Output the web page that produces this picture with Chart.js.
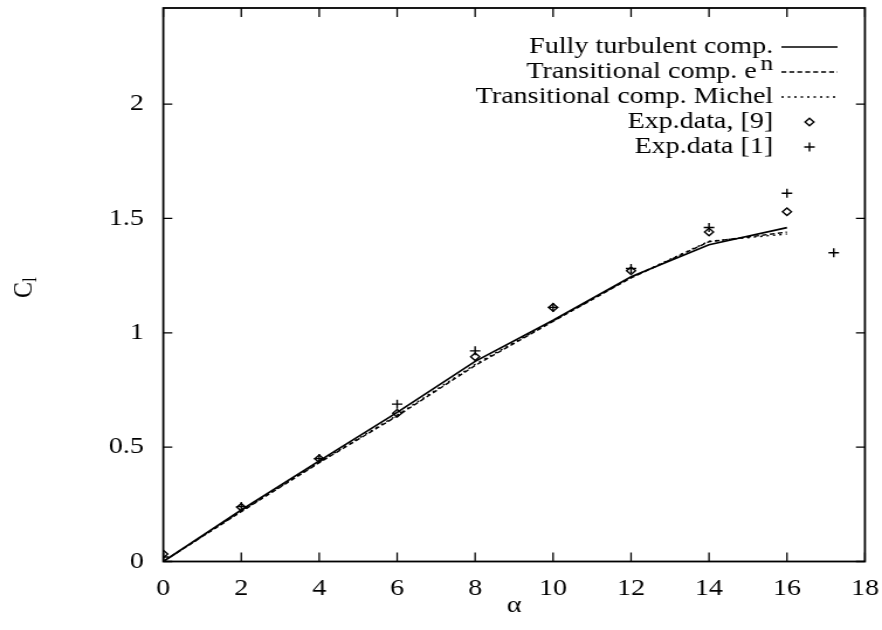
<!DOCTYPE html>
<html>
<head>
<meta charset="utf-8">
<title>Lift coefficient vs angle of attack</title>
<script src="https://cdn.jsdelivr.net/npm/chart.js@4.4.1/dist/chart.umd.min.js"></script>
<style>
  html, body { margin: 0; padding: 0; background: #fff; }
  /* the plot is drawn on a narrower canvas and widened by CSS,
     which gives the wide serif lettering of the printed figure */
  #liftChart { display: block; width: 882px !important; height: 630px !important; }
</style>
</head>
<body>
<canvas id="liftChart" width="754" height="630" style="width:882px;height:630px"></canvas>
<script>
// angle of attack (deg) of the computed polars
const alpha = [0, 2, 4, 6, 8, 10, 12, 14, 16];
const clTurbulent = [0, 0.225, 0.44, 0.652, 0.875, 1.055, 1.245, 1.385, 1.46];
const clTransEn = [0, 0.218, 0.432, 0.636, 0.857, 1.05, 1.24, 1.398, 1.44];
const clTransMichel = [0, 0.22, 0.435, 0.64, 0.862, 1.052, 1.242, 1.40, 1.432];

// measurements
const expAlpha9 = [0, 2, 4, 6, 8, 10, 12, 14, 16];
const expCl9 = [0.033, 0.237, 0.449, 0.648, 0.895, 1.111, 1.271, 1.441, 1.529];
const expAlpha1 = [0, 2, 4, 6, 8, 10, 12, 14, 16, 17.2];
const expCl1 = [0.02, 0.24, 0.45, 0.688, 0.921, 1.111, 1.281, 1.46, 1.61, 1.35];

const seriesNames = [
    'Fully turbulent comp.',
    'Transitional comp. e^n',
    'Transitional comp. Michel',
    'Exp.data, [9]',
    'Exp.data [1]'
];

const xTicks = [0, 2, 4, 6, 8, 10, 12, 14, 16, 18];
const yTicks = [0, 0.5, 1, 1.5, 2];

const FONT = '"Liberation Serif", "Times New Roman", serif';

function pairs(xs, ys) {
    return xs.map((v, i) => ({ x: v, y: ys[i] }));
}

// inward tick marks on all four sides plus the box around the plot
const frameTicks = {
    id: 'frameTicks',
    afterDatasetsDraw(chart) {
        const { ctx, chartArea: a, scales: { x, y } } = chart;
        ctx.save();
        ctx.strokeStyle = '#000';
        ctx.lineWidth = 1.3;
        ctx.beginPath();
        xTicks.forEach(v => {
            const px = x.getPixelForValue(v);
            ctx.moveTo(px, a.bottom);
            ctx.lineTo(px, a.bottom - 9);
            ctx.moveTo(px, a.top);
            ctx.lineTo(px, a.top + 9);
        });
        yTicks.forEach(v => {
            const py = y.getPixelForValue(v);
            ctx.moveTo(a.left, py);
            ctx.lineTo(a.left + 7.7, py);
            ctx.moveTo(a.right, py);
            ctx.lineTo(a.right - 7.7, py);
        });
        ctx.stroke();
        ctx.lineWidth = 1.8;
        ctx.strokeRect(a.left, a.top, a.right - a.left, a.bottom - a.top);
        ctx.restore();
    }
};

// key in the upper right: text right-aligned, sample to its right
const keyBox = {
    id: 'keyBox',
    afterDraw(chart) {
        const ctx = chart.ctx;
        const textRight = 661, sampleL = 668, sampleR = 716;
        const top = 47, step = 25;
        ctx.save();
        ctx.fillStyle = '#000';
        ctx.strokeStyle = '#000';
        ctx.textAlign = 'right';
        ctx.textBaseline = 'middle';
        chart.data.datasets.forEach((ds, i) => {
            const yy = top + i * step;
            const parts = ds.label.split('^');
            let right = textRight;
            if (parts[1]) {
                ctx.font = '22px ' + FONT;
                ctx.fillText(parts[1], right, yy - 8);
                right -= ctx.measureText(parts[1]).width + 3;
            }
            ctx.font = '24px ' + FONT;
            ctx.fillText(parts[0], right, yy);

            if (ds.showLine) {
                ctx.lineWidth = ds.borderWidth;
                ctx.setLineDash(ds.borderDash || []);
                ctx.beginPath();
                ctx.moveTo(sampleL, yy);
                ctx.lineTo(sampleR, yy);
                ctx.stroke();
                ctx.setLineDash([]);
            } else {
                ctx.lineWidth = ds.pointBorderWidth;
                ctx.fillStyle = 'rgba(0,0,0,0)';
                Chart.helpers.drawPoint(ctx, {
                    pointStyle: ds.pointStyle,
                    radius: ds.pointRadius,
                    borderWidth: ds.pointBorderWidth,
                    rotation: 0
                }, (sampleL + sampleR) / 2, yy);
                ctx.fillStyle = '#000';
            }
        });
        ctx.restore();
    }
};

// rotated C with subscript l beside the vertical axis
const yTitle = {
    id: 'yTitle',
    afterDraw(chart) {
        const ctx = chart.ctx;
        ctx.save();
        ctx.fillStyle = '#000';
        ctx.translate(27, 298);
        ctx.rotate(-Math.PI / 2);
        ctx.textAlign = 'left';
        ctx.textBaseline = 'alphabetic';
        ctx.font = '24px ' + FONT;
        ctx.fillText('C', 0, 0);
        const w = ctx.measureText('C').width;
        ctx.font = '17px ' + FONT;
        ctx.fillText('l', w, 4);
        ctx.restore();
    }
};

const ctx = document.getElementById('liftChart').getContext('2d');

new Chart(ctx, {
    type: 'scatter',
    data: {
        datasets: [{
            label: seriesNames[0],
            data: pairs(alpha, clTurbulent),
            showLine: true,
            borderColor: '#000',
            borderWidth: 1.7,
            pointRadius: 0,
            tension: 0
        }, {
            label: seriesNames[1],
            data: pairs(alpha, clTransEn),
            showLine: true,
            borderColor: '#000',
            borderWidth: 1.4,
            borderDash: [4.2, 2.6],
            pointRadius: 0,
            tension: 0
        }, {
            label: seriesNames[2],
            data: pairs(alpha, clTransMichel),
            showLine: true,
            borderColor: '#000',
            borderWidth: 1.4,
            borderDash: [2, 3.5],
            pointRadius: 0,
            tension: 0
        }, {
            label: seriesNames[3],
            data: pairs(expAlpha9, expCl9),
            showLine: false,
            pointStyle: 'rectRot',
            pointRadius: 3.8,
            pointBorderWidth: 1.4,
            pointBorderColor: '#000',
            pointBackgroundColor: 'rgba(0,0,0,0)'
        }, {
            label: seriesNames[4],
            data: pairs(expAlpha1, expCl1),
            showLine: false,
            pointStyle: 'cross',
            pointRadius: 4.5,
            pointBorderWidth: 1.4,
            pointBorderColor: '#000'
        }]
    },
    options: {
        responsive: false,
        devicePixelRatio: 1,
        animation: false,
        events: [],
        layout: {
            padding: { top: 8, right: 14.6, left: 0, bottom: 0 }
        },
        plugins: {
            legend: { display: false },
            tooltip: { enabled: false }
        },
        scales: {
            x: {
                type: 'linear',
                position: 'bottom',
                min: 0,
                max: 18,
                afterBuildTicks: scale => {
                    scale.ticks = xTicks.map(v => ({ value: v }));
                },
                afterFit: scale => {
                    scale.height = 68.5;
                    scale.paddingLeft = 0;
                    scale.paddingRight = 0;
                },
                grid: { display: false, drawTicks: false },
                border: { display: false },
                ticks: {
                    color: '#000',
                    font: { family: FONT, size: 24 },
                    padding: 13,
                    maxRotation: 0,
                    autoSkip: false,
                    callback: v => String(v)
                },
                title: {
                    display: true,
                    text: 'α',
                    color: '#000',
                    font: { family: FONT, size: 24 },
                    padding: { top: 0, bottom: 10 }
                }
            },
            y: {
                type: 'linear',
                position: 'left',
                min: 0,
                max: 2.42,
                afterBuildTicks: scale => {
                    scale.ticks = yTicks.map(v => ({ value: v }));
                },
                afterFit: scale => {
                    scale.width = 139.6;
                    scale.paddingTop = 0;
                    scale.paddingBottom = 0;
                },
                grid: { display: false, drawTicks: false },
                border: { display: false },
                ticks: {
                    color: '#000',
                    font: { family: FONT, size: 24 },
                    padding: 16.5,
                    callback: v => String(v)
                }
            }
        }
    },
    plugins: [frameTicks, keyBox, yTitle]
});
</script>
</body>
</html>
